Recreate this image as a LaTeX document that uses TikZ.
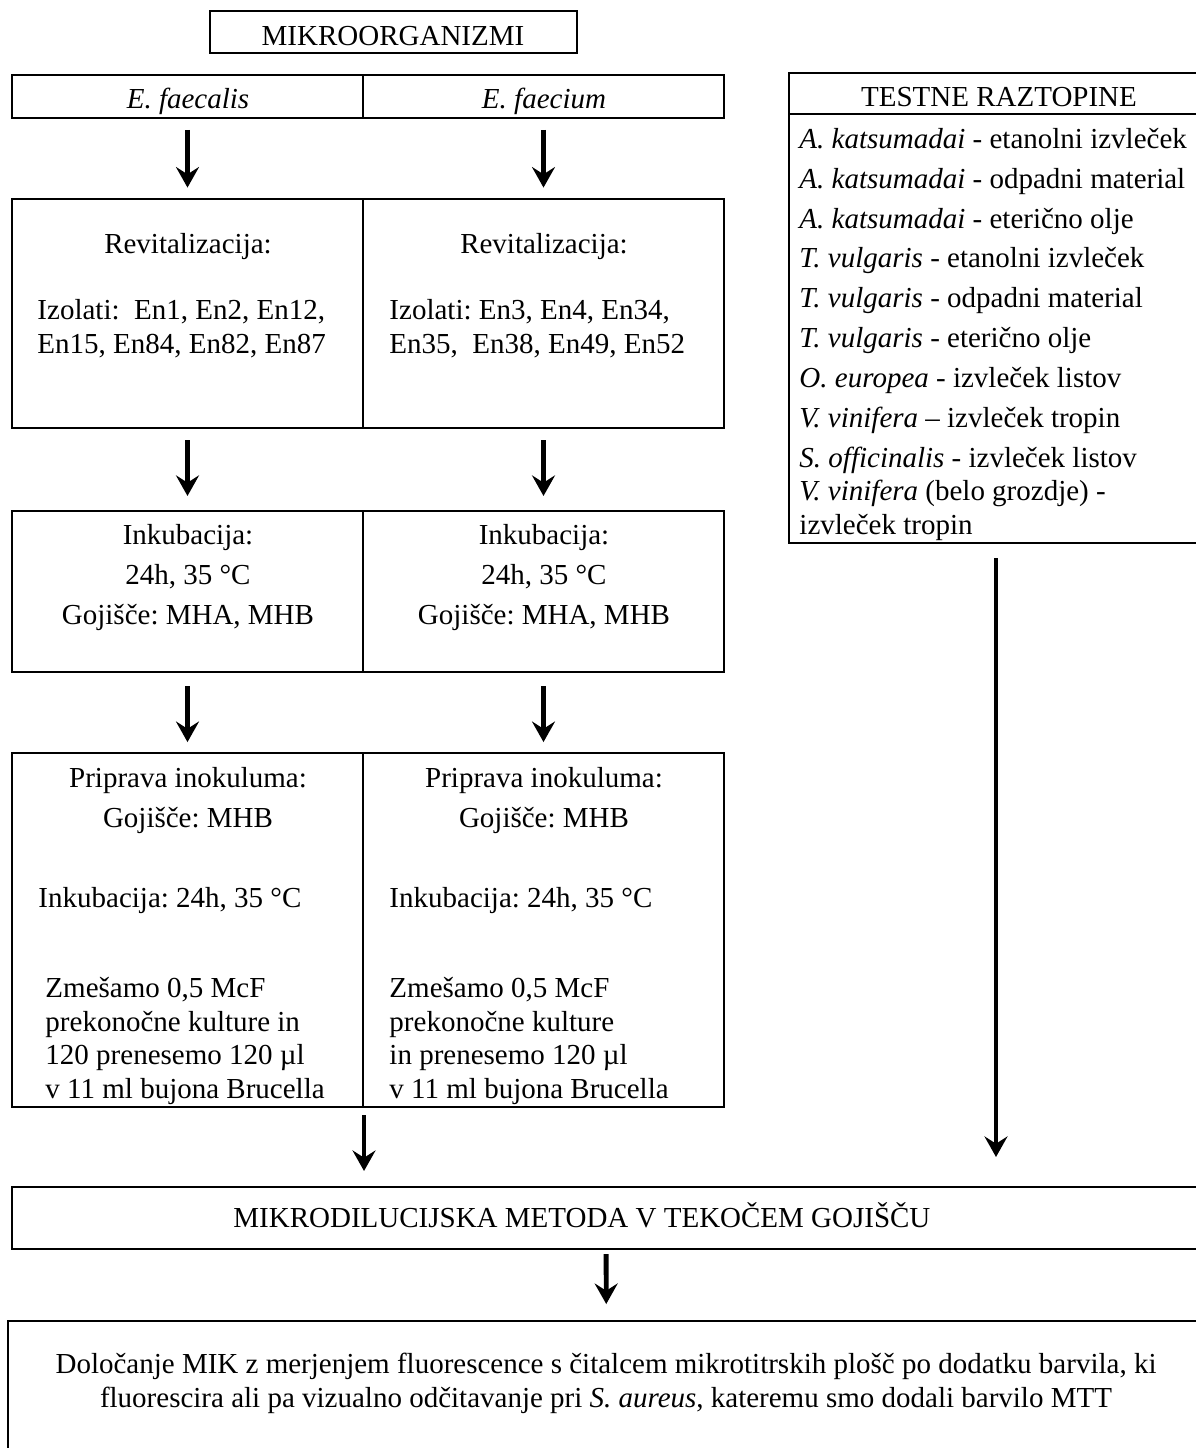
\documentclass[tikz,border=0pt]{standalone}
\usepackage{fontspec}
\setmainfont{Liberation Serif}
\frenchspacing
\usetikzlibrary{arrows.meta,fit}

\begin{document}
\begin{tikzpicture}[x=0.4138pt, y=-0.4138pt, >={Stealth[length=8.5pt, width=9.5pt, inset=3pt]}]
			\tikzstyle{box} = [draw=black, line width=0.85pt, inner sep=0pt];
			\tikzstyle{txt} = [inner sep=0pt, anchor=base, font=\fontsize{12}{13.8}\selectfont];
			\tikzstyle{lft} = [txt, anchor=base west, align=left];
			\tikzstyle{down} = [->, line width=2pt];
			\useasboundingbox (0,0) rectangle (1195,1448);
			\node[box, fit={(210,11) (577,53)}] (mikroorg) {};
			\node[box, fit={(12,75) (363,118)}] (faecalis) {};
			\node[box, fit={(363,75) (724,118)}] (faecium) {};
			\node[box, fit={(12,199) (363,428)}] (revL) {};
			\node[box, fit={(363,199) (724,428)}] (revR) {};
			\node[box, fit={(12,511) (363,672)}] (inkL) {};
			\node[box, fit={(363,511) (724,672)}] (inkR) {};
			\node[box, fit={(12,753) (363,1107)}] (pripL) {};
			\node[box, fit={(363,753) (724,1107)}] (pripR) {};
			\node[box, fit={(789,73) (1203,114)}] (testneH) {};
			\node[box, fit={(789,114) (1203,543)}] (testne) {};
			\node[box, fit={(12,1187) (1200,1249)}] (metoda) {};
			\node[box, fit={(8,1321) (1205,1470)}] (mik) {};
			\node[txt] (mikroorgT) at (393,45) {MIKROORGANIZMI};
			\node[txt] (faecalisT) at (188,108) {\textit{E. faecalis}};
			\node[txt] (faeciumT) at (544,108) {\textit{E. faecium}};
			\node[txt] (revLT) at (188,253) {Revitalizacija:};
			\node[lft] (revLI) at (37,353) {Izolati:\ \ En1, En2, En12,\\En15, En84, En82, En87};
			\node[txt] (revRT) at (544,253) {Revitalizacija:};
			\node[lft] (revRI) at (389,353) {Izolati: En3, En4, En34,\\En35,\ \ En38, En49, En52};
			\node[txt, align=center] (inkLT) at (188,624) {Inkubacija:\\[2.7pt]24h, 35 °C\\[2.7pt]Gojišče: MHA, MHB};
			\node[txt, align=center] (inkRT) at (544,624) {Inkubacija:\\[2.7pt]24h, 35 °C\\[2.7pt]Gojišče: MHA, MHB};
			\node[txt, align=center] (pripLT) at (188,827) {Priprava inokuluma:\\[2.7pt]Gojišče: MHB};
			\node[lft] (pripLI) at (38,907) {Inkubacija: 24h, 35 °C};
			\node[lft] (pripLZ) at (45,1098) {Zmešamo 0,5 McF\\prekonočne kulture in\\120 prenesemo 120 µl\\v 11 ml bujona Brucella};
			\node[txt, align=center] (pripRT) at (544,827) {Priprava inokuluma:\\[2.7pt]Gojišče: MHB};
			\node[lft] (pripRI) at (389,907) {Inkubacija: 24h, 35 °C};
			\node[lft] (pripRZ) at (389,1098) {Zmešamo 0,5 McF\\prekonočne kulture\\in prenesemo 120 µl\\v 11 ml bujona Brucella};
			\node[txt] (testneT) at (999,106) {TESTNE RAZTOPINE};
			\node[lft] (testneL) at (799,534) {\textit{A. katsumadai} - etanolni izvleček\\[2.7pt]
				\textit{A. katsumadai} - odpadni material\\[2.7pt]
				\textit{A. katsumadai} - eterično olje\\[2.7pt]
				\textit{T. vulgaris} - etanolni izvleček\\[2.7pt]
				\textit{T. vulgaris} - odpadni material\\[2.7pt]
				\textit{T. vulgaris} - eterično olje\\[2.7pt]
				\textit{O. europea} - izvleček listov\\[2.7pt]
				\textit{V. vinifera} – izvleček tropin\\[2.7pt]
				\textit{S. officinalis} - izvleček listov\\
				\textit{V. vinifera} (belo grozdje) -\\
				izvleček tropin};
			\node[txt] (metodaT) at (582,1227) {MIKRODILUCIJSKA METODA V TEKOČEM GOJIŠČU};
			\node[txt, align=center] (mikT) at (606,1407) {Določanje MIK z merjenjem fluorescence s čitalcem mikrotitrskih plošč po dodatku barvila, ki\\fluorescira ali pa vizualno odčitavanje pri \textit{S. aureus}, kateremu smo dodali barvilo MTT};
			\draw[down, shorten <=4.5pt, shorten >=4.3pt] (faecalis) -- (revL);
			\draw[down, shorten <=4.5pt, shorten >=4.3pt] (faecium) -- (revR);
			\draw[down, shorten <=4.6pt, shorten >=5.8pt] (revL) -- (inkL);
			\draw[down, shorten <=4.6pt, shorten >=5.8pt] (revR) -- (inkR);
			\draw[down, shorten <=5.4pt, shorten >=4.1pt] (inkL) -- (pripL);
			\draw[down, shorten <=5.4pt, shorten >=4.1pt] (inkR) -- (pripR);
			\draw[down, shorten <=2.9pt, shorten >=6.2pt] (pripL.south east) -- (pripL.south east |- metoda.north);
			\draw[down, shorten <=5.8pt, shorten >=12pt] (testne) -- (testne |- metoda.north);
			\draw[down, shorten <=1.7pt, shorten >=6.6pt] (metoda) -- (mik);
		\end{tikzpicture}
\end{document}
